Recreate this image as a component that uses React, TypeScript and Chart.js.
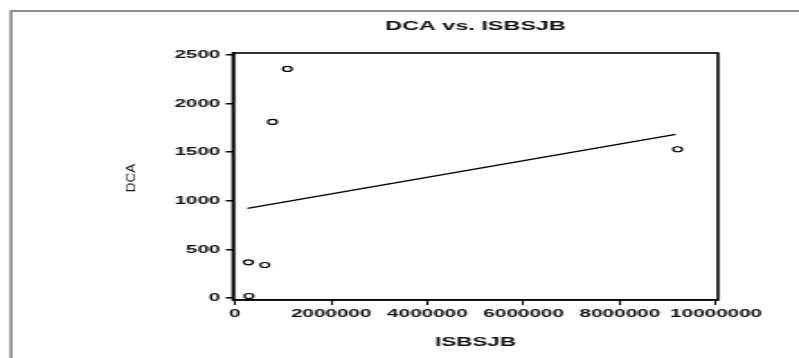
import React, { useEffect, useRef } from "react";
import { Chart, registerables } from "chart.js";

Chart.register(...registerables);

// ---- data ----
const chartTitle = "DCA vs. ISBSJB";
const xAxisTitle = "ISBSJB";
const yAxisTitle = "DCA";

const pointsX = [280000, 290000, 620000, 780000, 1090000, 9200000];
const pointsY = [367, 21, 340, 1811, 2356, 1530];

const fitLineX = [260000, 9160000];
const fitLineY = [923, 1684];

const xTickValues = [0, 2000000, 4000000, 6000000, 8000000, 10000000];
const xTickLabels = ["0", "2000000", "4000000", "6000000", "8000000", "10000000"];
const yTickValues = [0, 500, 1000, 1500, 2000, 2500];
const yTickLabels = ["0", "500", "1000", "1500", "2000", "2500"];

// ---- layout (logical canvas is horizontally compressed, then stretched like the scanned original) ----
const VIEW_W = 799;
const VIEW_H = 358;
const STRETCH = 1.8;
const CANVAS_W = Math.round(VIEW_W / STRETCH);
const S = VIEW_W / CANVAS_W;

const AREA_LEFT = 233 / S;
const AREA_RIGHT = 718 / S;
const AREA_BOTTOM = 300;

const framePlugin = {
  id: "framePlugin",
  beforeDraw(chart: any) {
    const ctx = chart.ctx;
    ctx.save();
    ctx.fillStyle = "#ffffff";
    ctx.fillRect(0, 0, chart.width, chart.height);
    ctx.strokeStyle = "#6a6a6a";
    ctx.lineWidth = 1.3;
    ctx.beginPath();
    ctx.moveTo(11 / S, chart.height);
    ctx.lineTo(11 / S, 11);
    ctx.lineTo(chart.width, 11);
    ctx.stroke();
    ctx.restore();
  },
  afterDraw(chart: any) {
    const ctx = chart.ctx;
    const a = chart.chartArea;
    ctx.save();
    ctx.strokeStyle = "#000";
    ctx.lineWidth = 1.6;
    ctx.strokeRect(a.left, a.top, a.right - a.left, a.bottom - a.top);
    // y axis title, drawn with compensation so it is not widened by the stretch
    ctx.translate(131 / S, 178);
    ctx.scale(1 / S, 1);
    ctx.rotate(-Math.PI / 2);
    ctx.fillStyle = "#111";
    ctx.font = "13.5px 'Liberation Sans', Arial, sans-serif";
    ctx.textAlign = "center";
    ctx.textBaseline = "middle";
    ctx.fillText(yAxisTitle, 0, 0);
    ctx.restore();
  },
};

export default function App() {
  const canvasRef = useRef<HTMLCanvasElement | null>(null);

  useEffect(() => {
    const canvas = canvasRef.current;
    if (!canvas) return;
    const tickFont = { family: "'Liberation Sans', Arial, sans-serif", size: 11.5, weight: "bold" as const };
    const chart = new Chart(canvas, {
      type: "scatter",
      data: {
        datasets: [
          {
            label: "points",
            data: pointsX.map((x, i) => ({ x, y: pointsY[i] })),
            pointStyle: "circle",
            pointRadius: 2.5,
            pointBorderWidth: 1.2,
            pointBorderColor: "#000",
            pointBackgroundColor: "rgba(255,255,255,0)",
            borderColor: "#000",
            backgroundColor: "rgba(255,255,255,0)",
            showLine: false,
          },
          {
            label: "fit",
            data: fitLineX.map((x, i) => ({ x, y: fitLineY[i] })),
            showLine: true,
            borderColor: "#000",
            borderWidth: 1.3,
            pointRadius: 0,
            fill: false,
          } as any,
        ],
      },
      plugins: [framePlugin],
      options: {
        animation: false,
        responsive: false,
        devicePixelRatio: 1,
        layout: { padding: { top: 11, left: 0, right: CANVAS_W - AREA_RIGHT, bottom: 0 } },
        plugins: {
          legend: { display: false },
          tooltip: { enabled: false },
          title: {
            display: true,
            text: chartTitle,
            fullSize: false,
            color: "#111",
            font: { family: "'Liberation Sans', Arial, sans-serif", size: 13, weight: "bold" },
            padding: { top: 7.2, bottom: 19.2 },
          },
        },
        scales: {
          x: {
            type: "linear",
            min: -40000,
            max: 10040000,
            afterFit(scale: any) {
              scale.height = VIEW_H - AREA_BOTTOM;
            },
            afterBuildTicks(scale: any) {
              scale.ticks = xTickValues.map((v) => ({ value: v }));
            },
            ticks: {
              autoSkip: false,
              maxRotation: 0,
              includeBounds: false,
              padding: 2,
              color: "#111",
              font: tickFont,
              callback: (v: any) => {
                const i = xTickValues.indexOf(Number(v));
                return i >= 0 ? xTickLabels[i] : "";
              },
            },
            grid: {
              display: true,
              drawOnChartArea: false,
              drawTicks: true,
              tickLength: 5,
              color: "#000",
              lineWidth: 1,
            },
            border: { display: true, color: "#000", width: 1.6 },
            title: {
              display: true,
              text: xAxisTitle,
              color: "#111",
              font: { family: "'Liberation Sans', Arial, sans-serif", size: 12.5, weight: "bold" },
              padding: { top: 4, bottom: 7.8 },
            },
          },
          y: {
            type: "linear",
            min: -20,
            max: 2520,
            afterFit(scale: any) {
              scale.width = AREA_LEFT;
            },
            afterBuildTicks(scale: any) {
              scale.ticks = yTickValues.map((v) => ({ value: v }));
            },
            ticks: {
              autoSkip: false,
              includeBounds: false,
              padding: 3,
              color: "#111",
              font: tickFont,
              callback: (v: any) => {
                const i = yTickValues.indexOf(Number(v));
                return i >= 0 ? yTickLabels[i] : "";
              },
            },
            grid: {
              display: true,
              drawOnChartArea: false,
              drawTicks: true,
              tickLength: 4,
              color: "#000",
              lineWidth: 1.5,
            },
            border: { display: true, color: "#000", width: 1.6 },
            title: { display: false },
          },
        },
      } as any,
    });
    return () => chart.destroy();
  }, []);

  return (
    <div style={{ position: "fixed", left: 0, top: 0, width: VIEW_W, height: VIEW_H, background: "#fff" }}>
      <canvas
        ref={canvasRef}
        width={CANVAS_W}
        height={VIEW_H}
        style={{ width: VIEW_W + "px", height: VIEW_H + "px", display: "block" }}
      />
    </div>
  );
}
